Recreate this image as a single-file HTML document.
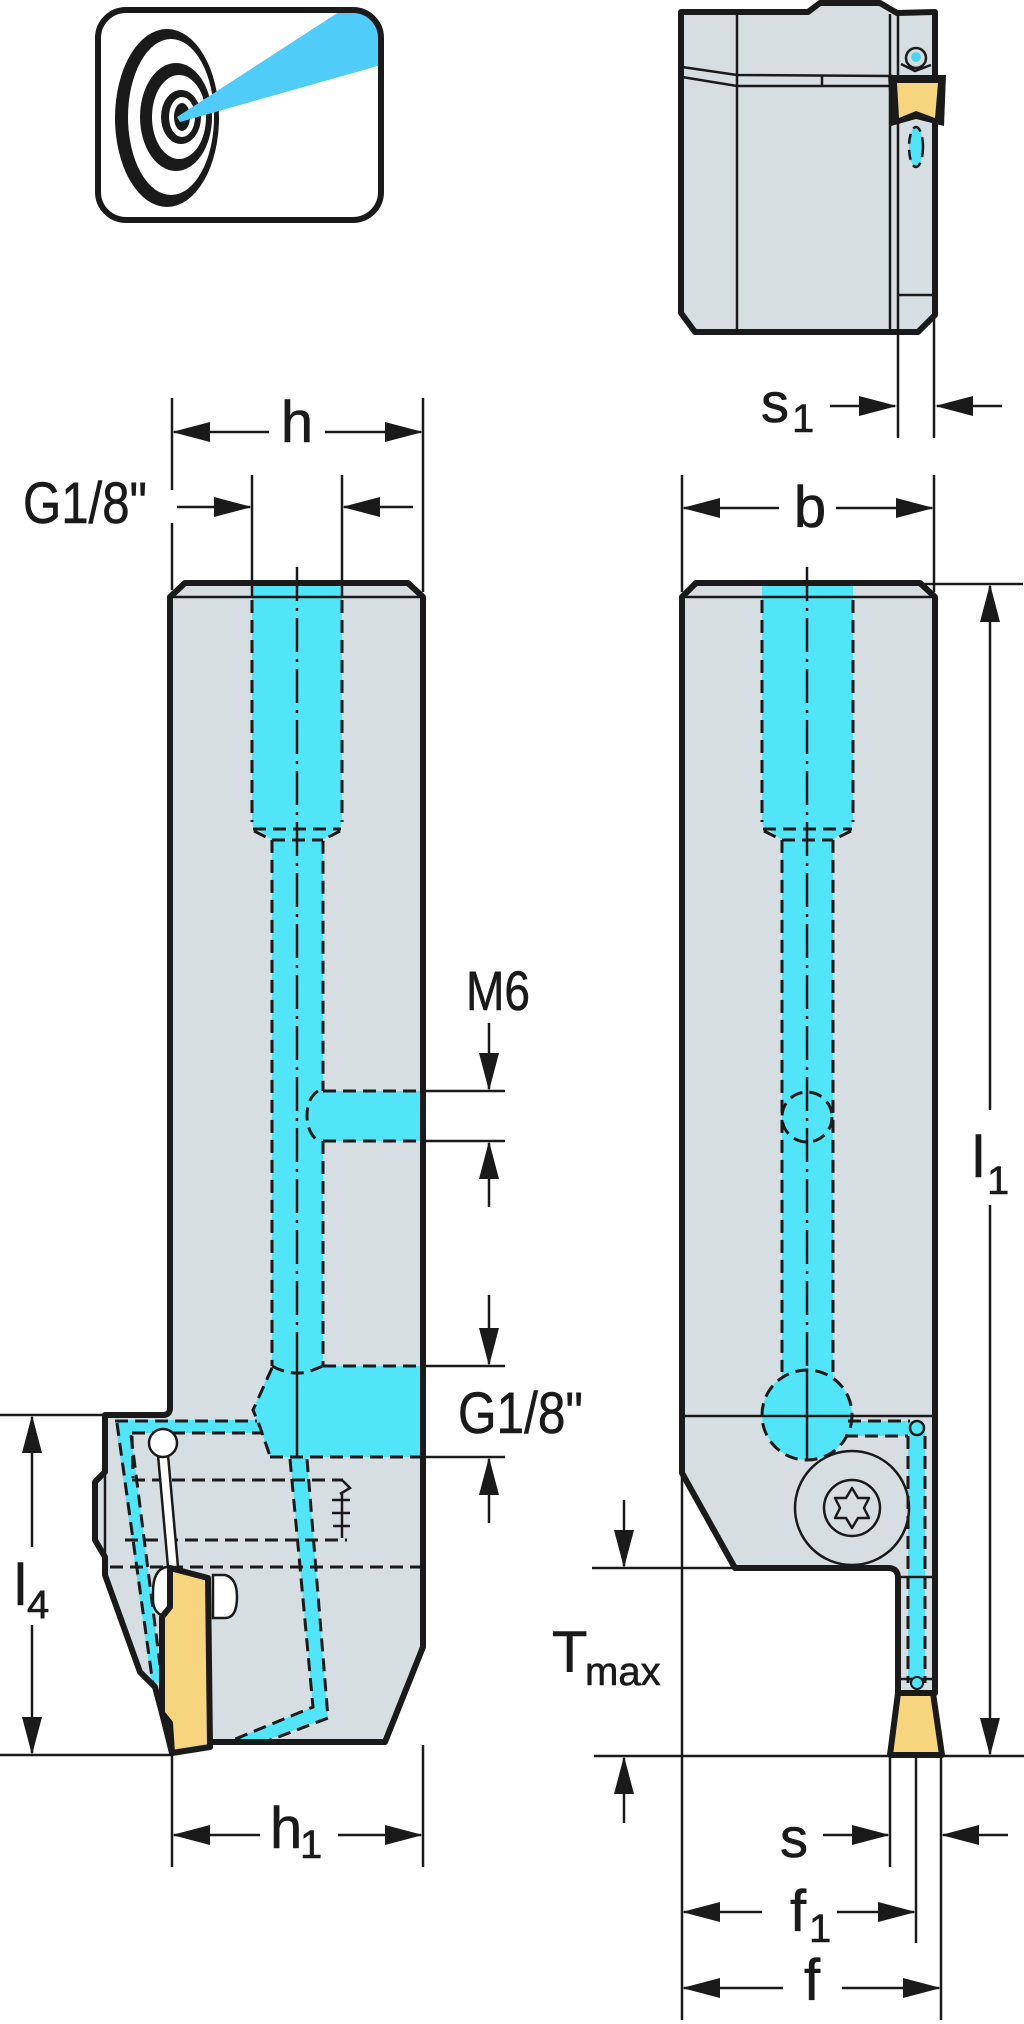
<!DOCTYPE html>
<html>
<head>
<meta charset="utf-8">
<style>
  html, body { margin: 0; padding: 0; background: #fff; }
  svg { display: block; }
  text { font-family: "Liberation Sans", "DejaVu Sans", sans-serif; fill: #1a1a1a; stroke: #1a1a1a; stroke-width: 0.6; }
</style>
</head>
<body>
<svg width="1024" height="2024" viewBox="0 0 1024 2024" xmlns="http://www.w3.org/2000/svg">
  <defs>
    <clipPath id="ic"><rect x="98" y="10" width="283" height="210" rx="28"/></clipPath>
  </defs>

  <!-- ================= ICON ================= -->
  <rect x="98" y="10" width="283" height="210" rx="28" fill="#fff"/>
  <g clip-path="url(#ic)">
    <ellipse cx="167" cy="118" rx="52" ry="89" fill="#1a1a1a"/>
    <ellipse cx="171" cy="117" rx="43" ry="78" fill="#fff"/>
    <ellipse cx="176" cy="117" rx="36" ry="54" fill="#1a1a1a"/>
    <ellipse cx="179" cy="117" rx="27" ry="42" fill="#fff"/>
    <ellipse cx="181" cy="117" rx="20" ry="27" fill="#1a1a1a"/>
    <ellipse cx="182" cy="117" rx="13" ry="20" fill="#fff"/>
    <ellipse cx="182" cy="117" rx="8" ry="14" fill="#1a1a1a"/>
    <polygon points="177,117 345,8 392,8 392,62 180,122" fill="#4fcdf8"/>
  </g>
  <rect x="98" y="10" width="283" height="210" rx="28" fill="none" stroke="#1a1a1a" stroke-width="6"/>

  <!-- ================= TOP-RIGHT BLOCK ================= -->
  <path d="M681,12 L808,12 L820,3 L880,3 L897,13 L935,12 L935,315 L918,332 L695,332 L681,313 Z" fill="#d6dee1" stroke="#1a1a1a" stroke-width="6" stroke-linejoin="round"/>
  <g stroke="#1a1a1a" stroke-width="2.5" fill="none">
    <line x1="737" y1="13" x2="737" y2="331"/>
    <line x1="890" y1="14" x2="890" y2="331"/>
    <line x1="898" y1="14" x2="898" y2="438"/>
    <line x1="934" y1="317" x2="934" y2="438"/>
    <polyline points="682,67 737,75 893,76"/>
    <polyline points="682,77 737,86 893,86"/>
    <line x1="822" y1="76" x2="822" y2="86"/>
    <line x1="898" y1="295" x2="934" y2="295"/>
    <circle cx="916" cy="58" r="10" fill="#d6dee1"/>
    <polyline points="901,64 915,71 931,65"/>
  </g>
  <circle cx="916" cy="57" r="5" fill="#4fd3f2"/>
  <polygon points="888,75 946,75 944,126 916,119 891,126" fill="#1a1a1a"/>
  <polygon points="897,83 938,83 935,118 916,111 899,118" fill="#f7d47e"/>
  <ellipse cx="916" cy="147" rx="7" ry="20" fill="#52e3f8" stroke="#1a1a1a" stroke-width="2.5" stroke-dasharray="10 6"/>

  <!-- s1 dimension -->
  <g stroke="#1a1a1a" stroke-width="2.5">
    <line x1="830" y1="406" x2="895" y2="406"/>
    <line x1="937" y1="406" x2="1002" y2="406"/>
  </g>
  <polygon points="897,406 859,396 859,416" fill="#1a1a1a"/>
  <polygon points="935,406 973,396 973,416" fill="#1a1a1a"/>
  <text x="761" y="422" font-size="56">s</text>
  <text x="792" y="432" font-size="40">1</text>

  <!-- ================= LEFT VIEW ================= -->
  <path d="M170,597 L185,583 L408,583 L423,597 L423,1647 L385,1742 L210,1742 L172,1753 L162,1713 L155,1687 L140,1672 L105,1575 L105,1557 L95,1540 L95,1482 L105,1472 L105,1415 L163,1415 Q170,1415 170,1408 Z" fill="#d6dee1"/>

  <g fill="#52e5f9">
    <path d="M252,583 L342,583 L342,820 Q342,828 335,830 L323,840 L323,1368 L272,1368 L272,840 L259,830 Q252,828 252,820 Z"/>
    <path d="M322,1091 L423,1091 L423,1141 L322,1141 Q307,1136 307,1116 Q307,1096 322,1091 Z"/>
    <path d="M272,1366 L423,1366 L423,1457 L270,1457 L260,1427 L253,1410 Z"/>
    <path d="M115,1420 L257,1420 L262,1433 L131,1433 L162,1680 L152,1687 Z"/>
    <path d="M290,1457 L307,1457 L328,1718 L262,1742 L228,1742 L313,1707 Z"/>
  </g>

  <g stroke="#1a1a1a" stroke-width="3" fill="none" stroke-dasharray="13 7">
    <line x1="252" y1="600" x2="252" y2="822"/>
    <line x1="342" y1="600" x2="342" y2="822"/>
    <line x1="253" y1="829" x2="341" y2="829"/>
    <polyline points="254,831 272,840 272,1366"/>
    <polyline points="340,831 323,840 323,1091"/>
    <line x1="272" y1="840" x2="323" y2="840"/>
    <line x1="323" y1="1091" x2="423" y2="1091"/>
    <line x1="323" y1="1141" x2="423" y2="1141"/>
    <path d="M318,1091 Q307,1098 307,1116 Q307,1132 318,1141"/>
    <line x1="323" y1="1141" x2="323" y2="1366"/>
    <line x1="323" y1="1366" x2="423" y2="1366"/>
    <path d="M272,1366 Q290,1376 308,1372 L323,1366"/>
    <polyline points="272,1368 253,1410 260,1427 270,1456"/>
    <line x1="270" y1="1457" x2="423" y2="1457"/>
    <line x1="115" y1="1421" x2="257" y2="1421"/>
    <line x1="132" y1="1433" x2="262" y2="1433"/>
    <line x1="117" y1="1423" x2="153" y2="1685"/>
    <line x1="131" y1="1435" x2="160" y2="1665"/>
    <polyline points="290,1459 313,1707 228,1742"/>
    <polyline points="307,1459 328,1718 265,1742"/>
    <line x1="132" y1="1480" x2="343" y2="1480"/>
    <line x1="125" y1="1540" x2="347" y2="1540"/>
    <line x1="110" y1="1567" x2="420" y2="1567"/>
    <line x1="132" y1="1436" x2="133" y2="1478"/>
  </g>
  <g stroke="#1a1a1a" stroke-width="2.5" fill="none">
    <polyline points="342,1480 350,1488 340,1494"/>
    <line x1="332" y1="1500" x2="350" y2="1500"/>
    <line x1="332" y1="1513" x2="350" y2="1513"/>
    <line x1="333" y1="1526" x2="350" y2="1526"/>
    <line x1="342" y1="1494" x2="342" y2="1538"/>
    <line x1="105" y1="1472" x2="105" y2="1560"/>
    <line x1="172" y1="1755" x2="172" y2="1867"/>
    <line x1="423" y1="1745" x2="423" y2="1867"/>
  </g>

  <g stroke="#1a1a1a" stroke-width="2.5" fill="none">
    <line x1="297" y1="567" x2="297" y2="1366" stroke-dasharray="34 7 3 7"/>
    <line x1="297" y1="1366" x2="297" y2="1457"/>
  </g>

  <g stroke="#1a1a1a" stroke-width="2.5" fill="#fff">
    <path d="M158,1455 L168,1455 L178,1567 L168,1567 Z"/>
    <circle cx="163" cy="1443" r="14"/>
    <path d="M213,1575 L225,1575 Q237,1578 237,1597 Q237,1618 225,1618 L213,1618 Z"/>
    <path d="M153,1592 Q153,1570 166,1567 L171,1568 L171,1607 L163,1616 Q153,1612 153,1600 Z"/>
  </g>

  <path d="M170,597 L185,583 L408,583 L423,597 L423,1647 L385,1742 L210,1742 L172,1753 L162,1713 L155,1687 L140,1672 L105,1575 L105,1557 L95,1540 L95,1482 L105,1472 L105,1415 L163,1415 Q170,1415 170,1408 Z" fill="none" stroke="#1a1a1a" stroke-width="6" stroke-linejoin="round"/>
  <line x1="172" y1="597" x2="421" y2="597" stroke="#1a1a1a" stroke-width="2.5"/>
  <path d="M170,1568 L208,1578 L210,1747 L172,1753 L170,1723 L162,1713 L162,1617 L170,1607 Z" fill="#f7d47e" stroke="#1a1a1a" stroke-width="6" stroke-linejoin="round"/>

  <g stroke="#1a1a1a" stroke-width="2.5" fill="none">
    <line x1="172" y1="398" x2="172" y2="490"/>
    <line x1="172" y1="523" x2="172" y2="590"/>
    <line x1="423" y1="398" x2="423" y2="592"/>
    <line x1="174" y1="432" x2="269" y2="432"/>
    <line x1="325" y1="432" x2="421" y2="432"/>
    <line x1="252" y1="475" x2="252" y2="597"/>
    <line x1="342" y1="475" x2="342" y2="597"/>
    <line x1="177" y1="507" x2="250" y2="507"/>
    <line x1="344" y1="507" x2="413" y2="507"/>
    <line x1="423" y1="1091" x2="505" y2="1091"/>
    <line x1="423" y1="1141" x2="505" y2="1141"/>
    <line x1="489" y1="1023" x2="489" y2="1089"/>
    <line x1="489" y1="1143" x2="489" y2="1207"/>
    <line x1="423" y1="1366" x2="505" y2="1366"/>
    <line x1="423" y1="1457" x2="505" y2="1457"/>
    <line x1="489" y1="1295" x2="489" y2="1364"/>
    <line x1="489" y1="1459" x2="489" y2="1523"/>
    <line x1="0" y1="1415" x2="103" y2="1415"/>
    <line x1="0" y1="1755" x2="172" y2="1755"/>
    <line x1="32" y1="1417" x2="32" y2="1547"/>
    <line x1="32" y1="1625" x2="32" y2="1753"/>
    <line x1="174" y1="1835" x2="260" y2="1835"/>
    <line x1="338" y1="1835" x2="421" y2="1835"/>
  </g>
  <g fill="#1a1a1a">
    <polygon points="172,432 210,422 210,442"/>
    <polygon points="423,432 385,422 385,442"/>
    <polygon points="252,507 214,497 214,517"/>
    <polygon points="342,507 380,497 380,517"/>
    <polygon points="489,1091 479,1053 499,1053"/>
    <polygon points="489,1141 479,1179 499,1179"/>
    <polygon points="489,1366 479,1328 499,1328"/>
    <polygon points="489,1457 479,1495 499,1495"/>
    <polygon points="32,1415 22,1453 42,1453"/>
    <polygon points="32,1755 22,1717 42,1717"/>
    <polygon points="172,1835 210,1825 210,1845"/>
    <polygon points="423,1835 385,1825 385,1845"/>
  </g>
  <text x="297" y="442" font-size="58" text-anchor="middle">h</text>
  <text x="23" y="523" font-size="58" textLength="124" lengthAdjust="spacingAndGlyphs">G1/8"</text>
  <text x="466" y="1010" font-size="56" textLength="64" lengthAdjust="spacingAndGlyphs">M6</text>
  <text x="458" y="1433" font-size="58" textLength="125" lengthAdjust="spacingAndGlyphs">G1/8"</text>
  <text x="14" y="1605" font-size="58">l</text>
  <text x="27" y="1618" font-size="40">4</text>
  <text x="270" y="1848" font-size="58">h</text>
  <text x="300" y="1858" font-size="40">1</text>

  <!-- ================= RIGHT VIEW ================= -->
  <path d="M682,597 L696,583 L920,583 L935,597 L935,1693 L898,1693 L898,1578 Q898,1568 888,1568 L735,1568 L682,1473 Z" fill="#d6dee1"/>
  <g fill="#52e5f9">
    <path d="M762,583 L853,583 L853,820 Q853,828 846,830 L833,840 L833,1380 L782,1380 L782,840 L769,830 Q762,828 762,820 Z"/>
    <circle cx="807" cy="1415" r="45"/>
    <rect x="845" y="1421" width="72" height="15"/>
    <rect x="908" y="1428" width="17" height="255"/>
  </g>
  <g stroke="#1a1a1a" stroke-width="3" fill="none" stroke-dasharray="13 7">
    <line x1="762" y1="600" x2="762" y2="822"/>
    <line x1="853" y1="600" x2="853" y2="822"/>
    <line x1="763" y1="829" x2="852" y2="829"/>
    <polyline points="764,831 782,840 782,1372"/>
    <polyline points="851,831 833,840 833,1372"/>
    <line x1="782" y1="840" x2="833" y2="840"/>
    <circle cx="807" cy="1117" r="25"/>
    <circle cx="807" cy="1415" r="45"/>
    <line x1="848" y1="1421" x2="910" y2="1421"/>
    <line x1="845" y1="1436" x2="908" y2="1436"/>
    <line x1="908" y1="1436" x2="908" y2="1683"/>
    <line x1="925" y1="1436" x2="925" y2="1683"/>
  </g>
  <g stroke="#1a1a1a" stroke-width="2.5" fill="none">
    <line x1="807" y1="567" x2="807" y2="1370" stroke-dasharray="34 7 3 7"/>
    <line x1="807" y1="1370" x2="807" y2="1460"/>
    <line x1="683" y1="597" x2="933" y2="597"/>
    <line x1="683" y1="1416" x2="933" y2="1416"/>
    <line x1="898" y1="1577" x2="934" y2="1577"/>
    <line x1="898" y1="1679" x2="934" y2="1679"/>
    <circle cx="852" cy="1508" r="57"/>
    <circle cx="852" cy="1508" r="28"/>
    <polygon points="852,1488 858,1498 869,1498 864,1508 869,1518 858,1518 852,1528 846,1518 835,1518 840,1508 835,1498 846,1498" stroke-linejoin="round"/>
  </g>
  <circle cx="917" cy="1428" r="7" fill="#52e5f9" stroke="#1a1a1a" stroke-width="2.5"/>
  <circle cx="917" cy="1683" r="6" fill="#52e5f9" stroke="#1a1a1a" stroke-width="2"/>
  <path d="M682,597 L696,583 L920,583 L935,597 L935,1693 L898,1693 L898,1578 Q898,1568 888,1568 L735,1568 L682,1473 Z" fill="none" stroke="#1a1a1a" stroke-width="6" stroke-linejoin="round"/>
  <polygon points="898,1693 933,1693 942,1755 890,1755" fill="#f7d47e" stroke="#1a1a1a" stroke-width="6" stroke-linejoin="round"/>

  <g stroke="#1a1a1a" stroke-width="2.5" fill="none">
    <line x1="682" y1="475" x2="682" y2="592"/>
    <line x1="934" y1="475" x2="934" y2="592"/>
    <line x1="684" y1="508" x2="779" y2="508"/>
    <line x1="836" y1="508" x2="932" y2="508"/>
    <line x1="920" y1="584" x2="1023" y2="584"/>
    <line x1="990" y1="586" x2="990" y2="1110"/>
    <line x1="990" y1="1205" x2="990" y2="1754"/>
    <line x1="594" y1="1756" x2="1024" y2="1756"/>
    <line x1="592" y1="1568" x2="735" y2="1568"/>
    <line x1="624" y1="1500" x2="624" y2="1566"/>
    <line x1="624" y1="1758" x2="624" y2="1823"/>
    <line x1="682" y1="1473" x2="682" y2="2020"/>
    <line x1="890" y1="1755" x2="890" y2="1867"/>
    <line x1="916" y1="1755" x2="916" y2="1943"/>
    <line x1="941" y1="1755" x2="941" y2="2020"/>
    <line x1="823" y1="1835" x2="888" y2="1835"/>
    <line x1="943" y1="1835" x2="1008" y2="1835"/>
    <line x1="684" y1="1912" x2="762" y2="1912"/>
    <line x1="837" y1="1912" x2="914" y2="1912"/>
    <line x1="684" y1="1988" x2="783" y2="1988"/>
    <line x1="842" y1="1988" x2="939" y2="1988"/>
  </g>
  <g fill="#1a1a1a">
    <polygon points="682,508 720,498 720,518"/>
    <polygon points="934,508 896,498 896,518"/>
    <polygon points="990,584 980,622 1000,622"/>
    <polygon points="990,1756 980,1718 1000,1718"/>
    <polygon points="624,1568 614,1530 634,1530"/>
    <polygon points="624,1756 614,1794 634,1794"/>
    <polygon points="890,1835 852,1825 852,1845"/>
    <polygon points="941,1835 979,1825 979,1845"/>
    <polygon points="682,1912 720,1902 720,1922"/>
    <polygon points="916,1912 878,1902 878,1922"/>
    <polygon points="682,1988 720,1978 720,1998"/>
    <polygon points="941,1988 903,1978 903,1998"/>
  </g>
  <text x="810" y="527" font-size="58" text-anchor="middle">b</text>
  <text x="972" y="1177" font-size="58">l</text>
  <text x="987" y="1194" font-size="40">1</text>
  <text x="552" y="1672" font-size="58">T</text>
  <text x="585" y="1685" font-size="40">max</text>
  <text x="780" y="1857" font-size="56">s</text>
  <text x="790" y="1931" font-size="58">f</text>
  <text x="809" y="1942" font-size="40">1</text>
  <text x="804" y="2000" font-size="58">f</text>
</svg>
</body>
</html>
